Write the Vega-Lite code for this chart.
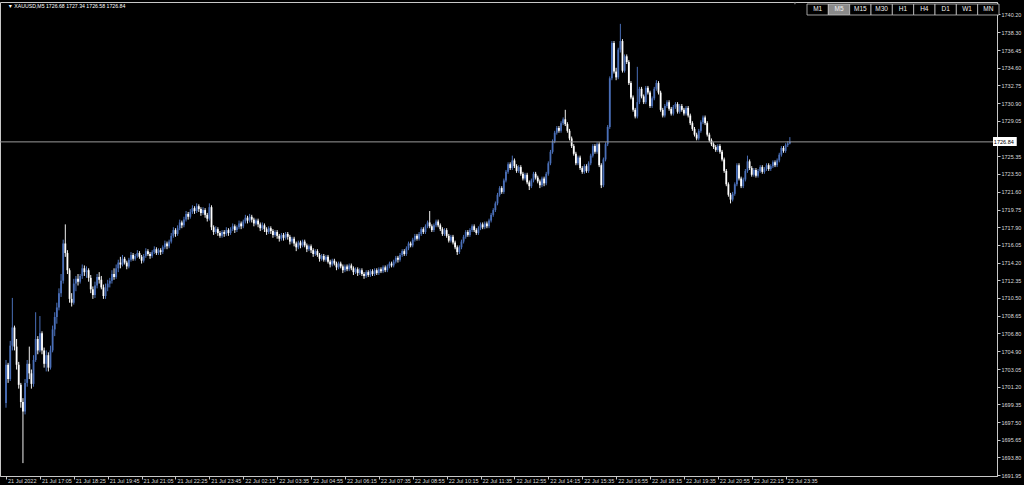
{
"$schema": "https://vega.github.io/schema/vega-lite/v6.json",
"width": 997,
"height": 474,
"autosize": {"type": "none"},
"padding": {"left": 0, "top": 2, "right": 27, "bottom": 9},
"background": "#000000",
"config": {
  "view": {"stroke": "#c8c8c8", "strokeWidth": 1, "fill": "#000000"},
  "axis": {"grid": false, "domainColor": "#c8c8c8", "tickColor": "#c8c8c8", "labelColor": "#dcdcdc", "labelFont": "Liberation Sans", "labelFontSize": 5.5, "tickSize": 3, "title": null, "labelOverlap": false, "labelFlush": false, "labelBound": false}
},
"datasets": {
  "bars": [
{"i":0,"o":1699.5,"h":1704.0,"l":1699.0,"c":1703.5},
{"i":1,"o":1703.5,"h":1703.7,"l":1701.6,"c":1702.0},
{"i":2,"o":1702.0,"h":1706.0,"l":1701.8,"c":1705.5},
{"i":3,"o":1705.5,"h":1710.5,"l":1705.0,"c":1707.4},
{"i":4,"o":1707.4,"h":1707.6,"l":1705.0,"c":1705.4},
{"i":5,"o":1705.4,"h":1706.2,"l":1703.0,"c":1703.5},
{"i":6,"o":1703.5,"h":1703.8,"l":1701.0,"c":1701.4},
{"i":7,"o":1701.4,"h":1701.6,"l":1699.0,"c":1699.6},
{"i":8,"o":1699.6,"h":1700.0,"l":1693.2,"c":1698.6},
{"i":9,"o":1698.6,"h":1702.0,"l":1698.3,"c":1701.6},
{"i":10,"o":1701.6,"h":1704.0,"l":1701.2,"c":1703.6},
{"i":11,"o":1703.6,"h":1705.4,"l":1702.0,"c":1702.6},
{"i":12,"o":1702.6,"h":1703.0,"l":1701.0,"c":1701.5},
{"i":13,"o":1701.5,"h":1704.5,"l":1701.2,"c":1704.0},
{"i":14,"o":1704.0,"h":1709.0,"l":1703.8,"c":1706.2},
{"i":15,"o":1706.2,"h":1706.5,"l":1704.6,"c":1705.0},
{"i":16,"o":1705.0,"h":1708.6,"l":1704.8,"c":1706.8},
{"i":17,"o":1706.8,"h":1707.0,"l":1704.6,"c":1705.0},
{"i":18,"o":1705.0,"h":1705.3,"l":1703.2,"c":1703.6},
{"i":19,"o":1703.6,"h":1705.0,"l":1702.8,"c":1704.5},
{"i":20,"o":1704.5,"h":1704.8,"l":1702.8,"c":1703.2},
{"i":21,"o":1703.2,"h":1705.5,"l":1703.0,"c":1705.0},
{"i":22,"o":1705.0,"h":1707.6,"l":1704.8,"c":1707.2},
{"i":23,"o":1707.2,"h":1709.0,"l":1706.5,"c":1708.5},
{"i":24,"o":1708.5,"h":1710.0,"l":1707.8,"c":1709.5},
{"i":25,"o":1709.5,"h":1711.5,"l":1709.2,"c":1711.0},
{"i":26,"o":1711.0,"h":1713.0,"l":1710.6,"c":1712.3},
{"i":27,"o":1712.3,"h":1716.6,"l":1712.0,"c":1716.2},
{"i":28,"o":1716.2,"h":1718.2,"l":1714.8,"c":1715.2},
{"i":29,"o":1715.2,"h":1715.5,"l":1713.0,"c":1713.4},
{"i":30,"o":1713.4,"h":1713.6,"l":1710.0,"c":1710.4},
{"i":31,"o":1710.4,"h":1711.0,"l":1709.6,"c":1710.0},
{"i":32,"o":1710.0,"h":1712.5,"l":1709.8,"c":1712.0},
{"i":33,"o":1712.0,"h":1712.8,"l":1711.2,"c":1712.5},
{"i":34,"o":1712.5,"h":1713.0,"l":1711.8,"c":1712.2},
{"i":35,"o":1712.2,"h":1713.0,"l":1712.0,"c":1712.8},
{"i":36,"o":1712.8,"h":1714.0,"l":1712.5,"c":1713.6},
{"i":37,"o":1713.6,"h":1713.9,"l":1712.8,"c":1713.2},
{"i":38,"o":1713.2,"h":1713.8,"l":1712.6,"c":1713.4},
{"i":39,"o":1713.4,"h":1713.6,"l":1712.2,"c":1712.6},
{"i":40,"o":1712.6,"h":1712.9,"l":1711.0,"c":1711.4},
{"i":41,"o":1711.4,"h":1711.7,"l":1710.4,"c":1710.8},
{"i":42,"o":1710.8,"h":1712.2,"l":1710.5,"c":1711.8},
{"i":43,"o":1711.8,"h":1713.0,"l":1711.5,"c":1712.7},
{"i":44,"o":1712.7,"h":1713.2,"l":1712.0,"c":1712.4},
{"i":45,"o":1712.4,"h":1712.8,"l":1711.4,"c":1711.6},
{"i":46,"o":1711.6,"h":1711.9,"l":1710.4,"c":1710.7},
{"i":47,"o":1710.7,"h":1712.0,"l":1710.4,"c":1711.6},
{"i":48,"o":1711.6,"h":1712.4,"l":1711.2,"c":1712.0},
{"i":49,"o":1712.0,"h":1712.6,"l":1711.6,"c":1712.3},
{"i":50,"o":1712.3,"h":1713.4,"l":1712.0,"c":1713.0},
{"i":51,"o":1713.0,"h":1713.6,"l":1712.4,"c":1712.7},
{"i":52,"o":1712.7,"h":1714.0,"l":1712.5,"c":1713.6},
{"i":53,"o":1713.6,"h":1714.5,"l":1713.2,"c":1714.2},
{"i":54,"o":1714.2,"h":1714.8,"l":1713.6,"c":1714.0},
{"i":55,"o":1714.0,"h":1715.0,"l":1713.8,"c":1714.6},
{"i":56,"o":1714.6,"h":1714.8,"l":1714.0,"c":1714.2},
{"i":57,"o":1714.2,"h":1714.4,"l":1713.5,"c":1713.8},
{"i":58,"o":1713.8,"h":1714.7,"l":1713.6,"c":1714.5},
{"i":59,"o":1714.5,"h":1715.3,"l":1714.3,"c":1715.0},
{"i":60,"o":1715.0,"h":1715.2,"l":1714.4,"c":1714.6},
{"i":61,"o":1714.6,"h":1715.1,"l":1714.4,"c":1714.9},
{"i":62,"o":1714.9,"h":1715.5,"l":1714.7,"c":1715.2},
{"i":63,"o":1715.2,"h":1715.4,"l":1714.6,"c":1714.8},
{"i":64,"o":1714.8,"h":1715.0,"l":1714.1,"c":1714.4},
{"i":65,"o":1714.4,"h":1715.1,"l":1714.2,"c":1714.9},
{"i":66,"o":1714.9,"h":1715.7,"l":1714.7,"c":1715.4},
{"i":67,"o":1715.4,"h":1715.6,"l":1714.9,"c":1715.1},
{"i":68,"o":1715.1,"h":1715.3,"l":1714.6,"c":1714.9},
{"i":69,"o":1714.9,"h":1715.5,"l":1714.7,"c":1715.3},
{"i":70,"o":1715.3,"h":1715.9,"l":1715.1,"c":1715.6},
{"i":71,"o":1715.6,"h":1715.8,"l":1715.0,"c":1715.2},
{"i":72,"o":1715.2,"h":1715.7,"l":1715.0,"c":1715.5},
{"i":73,"o":1715.5,"h":1715.7,"l":1715.0,"c":1715.3},
{"i":74,"o":1715.3,"h":1716.0,"l":1715.1,"c":1715.8},
{"i":75,"o":1715.8,"h":1716.5,"l":1715.6,"c":1716.2},
{"i":76,"o":1716.2,"h":1716.4,"l":1715.6,"c":1715.9},
{"i":77,"o":1715.9,"h":1716.6,"l":1715.7,"c":1716.4},
{"i":78,"o":1716.4,"h":1717.3,"l":1716.2,"c":1717.0},
{"i":79,"o":1717.0,"h":1717.9,"l":1716.8,"c":1717.6},
{"i":80,"o":1717.6,"h":1717.8,"l":1716.9,"c":1717.2},
{"i":81,"o":1717.2,"h":1718.1,"l":1717.0,"c":1717.8},
{"i":82,"o":1717.8,"h":1718.7,"l":1717.6,"c":1718.4},
{"i":83,"o":1718.4,"h":1718.6,"l":1717.8,"c":1718.1},
{"i":84,"o":1718.1,"h":1719.0,"l":1717.9,"c":1718.7},
{"i":85,"o":1718.7,"h":1719.6,"l":1718.5,"c":1719.3},
{"i":86,"o":1719.3,"h":1719.5,"l":1718.7,"c":1719.0},
{"i":87,"o":1719.0,"h":1719.8,"l":1718.8,"c":1719.5},
{"i":88,"o":1719.5,"h":1720.2,"l":1719.3,"c":1719.9},
{"i":89,"o":1719.9,"h":1720.1,"l":1719.3,"c":1719.6},
{"i":90,"o":1719.6,"h":1720.4,"l":1719.4,"c":1720.1},
{"i":91,"o":1720.1,"h":1720.3,"l":1719.5,"c":1719.8},
{"i":92,"o":1719.8,"h":1720.0,"l":1719.1,"c":1719.4},
{"i":93,"o":1719.4,"h":1720.0,"l":1719.2,"c":1719.7},
{"i":94,"o":1719.7,"h":1719.9,"l":1718.9,"c":1719.2},
{"i":95,"o":1719.2,"h":1719.4,"l":1718.5,"c":1718.8},
{"i":96,"o":1718.8,"h":1720.4,"l":1718.6,"c":1720.0},
{"i":97,"o":1720.0,"h":1720.2,"l":1717.6,"c":1717.9},
{"i":98,"o":1717.9,"h":1718.1,"l":1717.1,"c":1717.4},
{"i":99,"o":1717.4,"h":1718.0,"l":1717.2,"c":1717.7},
{"i":100,"o":1717.7,"h":1717.9,"l":1717.0,"c":1717.3},
{"i":101,"o":1717.3,"h":1717.5,"l":1716.8,"c":1717.0},
{"i":102,"o":1717.0,"h":1717.6,"l":1716.8,"c":1717.4},
{"i":103,"o":1717.4,"h":1717.6,"l":1716.9,"c":1717.2},
{"i":104,"o":1717.2,"h":1717.9,"l":1717.0,"c":1717.6},
{"i":105,"o":1717.6,"h":1717.8,"l":1717.0,"c":1717.3},
{"i":106,"o":1717.3,"h":1717.9,"l":1717.1,"c":1717.7},
{"i":107,"o":1717.7,"h":1718.3,"l":1717.5,"c":1718.0},
{"i":108,"o":1718.0,"h":1718.2,"l":1717.3,"c":1717.6},
{"i":109,"o":1717.6,"h":1718.1,"l":1717.4,"c":1717.9},
{"i":110,"o":1717.9,"h":1718.6,"l":1717.7,"c":1718.3},
{"i":111,"o":1718.3,"h":1718.5,"l":1717.7,"c":1718.0},
{"i":112,"o":1718.0,"h":1718.7,"l":1717.8,"c":1718.5},
{"i":113,"o":1718.5,"h":1719.2,"l":1718.3,"c":1718.9},
{"i":114,"o":1718.9,"h":1719.1,"l":1718.3,"c":1718.6},
{"i":115,"o":1718.6,"h":1719.3,"l":1718.4,"c":1719.0},
{"i":116,"o":1719.0,"h":1719.2,"l":1718.4,"c":1718.7},
{"i":117,"o":1718.7,"h":1718.9,"l":1718.0,"c":1718.3},
{"i":118,"o":1718.3,"h":1718.8,"l":1718.1,"c":1718.6},
{"i":119,"o":1718.6,"h":1718.8,"l":1717.9,"c":1718.2},
{"i":120,"o":1718.2,"h":1718.4,"l":1717.5,"c":1717.8},
{"i":121,"o":1717.8,"h":1718.4,"l":1717.6,"c":1718.1},
{"i":122,"o":1718.1,"h":1718.3,"l":1717.4,"c":1717.7},
{"i":123,"o":1717.7,"h":1717.9,"l":1717.1,"c":1717.4},
{"i":124,"o":1717.4,"h":1718.0,"l":1717.2,"c":1717.8},
{"i":125,"o":1717.8,"h":1718.0,"l":1717.2,"c":1717.5},
{"i":126,"o":1717.5,"h":1717.7,"l":1716.8,"c":1717.1},
{"i":127,"o":1717.1,"h":1717.6,"l":1716.9,"c":1717.4},
{"i":128,"o":1717.4,"h":1717.6,"l":1716.7,"c":1717.0},
{"i":129,"o":1717.0,"h":1717.2,"l":1716.4,"c":1716.7},
{"i":130,"o":1716.7,"h":1717.3,"l":1716.5,"c":1717.1},
{"i":131,"o":1717.1,"h":1717.3,"l":1716.5,"c":1716.8},
{"i":132,"o":1716.8,"h":1717.4,"l":1716.6,"c":1717.2},
{"i":133,"o":1717.2,"h":1717.4,"l":1716.6,"c":1716.9},
{"i":134,"o":1716.9,"h":1717.1,"l":1716.1,"c":1716.4},
{"i":135,"o":1716.4,"h":1716.9,"l":1716.2,"c":1716.7},
{"i":136,"o":1716.7,"h":1716.9,"l":1715.9,"c":1716.2},
{"i":137,"o":1716.2,"h":1716.4,"l":1715.4,"c":1715.8},
{"i":138,"o":1715.8,"h":1716.5,"l":1715.6,"c":1716.3},
{"i":139,"o":1716.3,"h":1716.5,"l":1715.7,"c":1716.0},
{"i":140,"o":1716.0,"h":1716.6,"l":1715.8,"c":1716.4},
{"i":141,"o":1716.4,"h":1716.6,"l":1715.8,"c":1716.0},
{"i":142,"o":1716.0,"h":1716.2,"l":1715.3,"c":1715.6},
{"i":143,"o":1715.6,"h":1716.1,"l":1715.4,"c":1715.9},
{"i":144,"o":1715.9,"h":1716.1,"l":1715.2,"c":1715.5},
{"i":145,"o":1715.5,"h":1715.7,"l":1714.8,"c":1715.1},
{"i":146,"o":1715.1,"h":1715.6,"l":1714.9,"c":1715.4},
{"i":147,"o":1715.4,"h":1715.6,"l":1714.8,"c":1715.0},
{"i":148,"o":1715.0,"h":1715.2,"l":1714.3,"c":1714.6},
{"i":149,"o":1714.6,"h":1715.1,"l":1714.4,"c":1714.9},
{"i":150,"o":1714.9,"h":1715.1,"l":1714.3,"c":1714.5},
{"i":151,"o":1714.5,"h":1715.0,"l":1714.3,"c":1714.8},
{"i":152,"o":1714.8,"h":1715.0,"l":1714.1,"c":1714.3},
{"i":153,"o":1714.3,"h":1714.5,"l":1713.7,"c":1714.0},
{"i":154,"o":1714.0,"h":1714.6,"l":1713.8,"c":1714.4},
{"i":155,"o":1714.4,"h":1714.6,"l":1713.9,"c":1714.1},
{"i":156,"o":1714.1,"h":1714.3,"l":1713.4,"c":1713.7},
{"i":157,"o":1713.7,"h":1714.3,"l":1713.5,"c":1714.1},
{"i":158,"o":1714.1,"h":1714.3,"l":1713.6,"c":1713.8},
{"i":159,"o":1713.8,"h":1714.0,"l":1713.1,"c":1713.4},
{"i":160,"o":1713.4,"h":1714.0,"l":1713.2,"c":1713.8},
{"i":161,"o":1713.8,"h":1714.0,"l":1713.3,"c":1713.5},
{"i":162,"o":1713.5,"h":1714.1,"l":1713.3,"c":1713.9},
{"i":163,"o":1713.9,"h":1714.1,"l":1713.4,"c":1713.6},
{"i":164,"o":1713.6,"h":1713.8,"l":1712.9,"c":1713.2},
{"i":165,"o":1713.2,"h":1713.7,"l":1713.0,"c":1713.5},
{"i":166,"o":1713.5,"h":1713.7,"l":1712.8,"c":1713.1},
{"i":167,"o":1713.1,"h":1713.6,"l":1712.9,"c":1713.4},
{"i":168,"o":1713.4,"h":1713.6,"l":1712.8,"c":1713.0},
{"i":169,"o":1713.0,"h":1713.2,"l":1712.5,"c":1712.8},
{"i":170,"o":1712.8,"h":1713.4,"l":1712.6,"c":1713.2},
{"i":171,"o":1713.2,"h":1713.4,"l":1712.7,"c":1712.9},
{"i":172,"o":1712.9,"h":1713.5,"l":1712.7,"c":1713.3},
{"i":173,"o":1713.3,"h":1713.5,"l":1712.8,"c":1713.0},
{"i":174,"o":1713.0,"h":1713.6,"l":1712.8,"c":1713.4},
{"i":175,"o":1713.4,"h":1713.6,"l":1712.9,"c":1713.1},
{"i":176,"o":1713.1,"h":1713.7,"l":1712.9,"c":1713.5},
{"i":177,"o":1713.5,"h":1713.7,"l":1713.1,"c":1713.3},
{"i":178,"o":1713.3,"h":1713.9,"l":1713.1,"c":1713.7},
{"i":179,"o":1713.7,"h":1713.9,"l":1713.2,"c":1713.4},
{"i":180,"o":1713.4,"h":1714.0,"l":1713.2,"c":1713.8},
{"i":181,"o":1713.8,"h":1714.3,"l":1713.6,"c":1714.1},
{"i":182,"o":1714.1,"h":1714.3,"l":1713.7,"c":1713.9},
{"i":183,"o":1713.9,"h":1714.5,"l":1713.7,"c":1714.3},
{"i":184,"o":1714.3,"h":1714.9,"l":1714.1,"c":1714.7},
{"i":185,"o":1714.7,"h":1714.9,"l":1714.2,"c":1714.5},
{"i":186,"o":1714.5,"h":1715.2,"l":1714.3,"c":1715.0},
{"i":187,"o":1715.0,"h":1715.6,"l":1714.8,"c":1715.4},
{"i":188,"o":1715.4,"h":1715.6,"l":1714.9,"c":1715.1},
{"i":189,"o":1715.1,"h":1715.9,"l":1714.9,"c":1715.7},
{"i":190,"o":1715.7,"h":1716.4,"l":1715.5,"c":1716.2},
{"i":191,"o":1716.2,"h":1716.4,"l":1715.8,"c":1716.0},
{"i":192,"o":1716.0,"h":1716.8,"l":1715.8,"c":1716.6},
{"i":193,"o":1716.6,"h":1717.2,"l":1716.4,"c":1717.0},
{"i":194,"o":1717.0,"h":1717.2,"l":1716.5,"c":1716.7},
{"i":195,"o":1716.7,"h":1717.4,"l":1716.5,"c":1717.2},
{"i":196,"o":1717.2,"h":1717.9,"l":1717.0,"c":1717.7},
{"i":197,"o":1717.7,"h":1717.9,"l":1717.2,"c":1717.4},
{"i":198,"o":1717.4,"h":1718.2,"l":1717.2,"c":1718.0},
{"i":199,"o":1718.0,"h":1718.6,"l":1717.8,"c":1718.4},
{"i":200,"o":1718.4,"h":1719.6,"l":1717.8,"c":1718.0},
{"i":201,"o":1718.0,"h":1718.2,"l":1717.4,"c":1717.6},
{"i":202,"o":1717.6,"h":1718.3,"l":1717.4,"c":1718.1},
{"i":203,"o":1718.1,"h":1718.7,"l":1717.9,"c":1718.5},
{"i":204,"o":1718.5,"h":1718.7,"l":1717.9,"c":1718.1},
{"i":205,"o":1718.1,"h":1718.3,"l":1717.5,"c":1717.7},
{"i":206,"o":1717.7,"h":1717.9,"l":1717.0,"c":1717.2},
{"i":207,"o":1717.2,"h":1717.8,"l":1717.0,"c":1717.6},
{"i":208,"o":1717.6,"h":1717.8,"l":1716.8,"c":1717.0},
{"i":209,"o":1717.0,"h":1717.2,"l":1716.3,"c":1716.5},
{"i":210,"o":1716.5,"h":1717.1,"l":1716.3,"c":1716.9},
{"i":211,"o":1716.9,"h":1717.1,"l":1716.1,"c":1716.3},
{"i":212,"o":1716.3,"h":1716.5,"l":1715.6,"c":1715.8},
{"i":213,"o":1715.8,"h":1716.0,"l":1715.0,"c":1715.3},
{"i":214,"o":1715.3,"h":1716.0,"l":1715.1,"c":1715.8},
{"i":215,"o":1715.8,"h":1716.6,"l":1715.6,"c":1716.4},
{"i":216,"o":1716.4,"h":1717.1,"l":1716.2,"c":1716.9},
{"i":217,"o":1716.9,"h":1717.6,"l":1716.7,"c":1717.4},
{"i":218,"o":1717.4,"h":1717.6,"l":1716.9,"c":1717.1},
{"i":219,"o":1717.1,"h":1717.8,"l":1716.9,"c":1717.6},
{"i":220,"o":1717.6,"h":1718.2,"l":1717.4,"c":1718.0},
{"i":221,"o":1718.0,"h":1718.2,"l":1717.4,"c":1717.6},
{"i":222,"o":1717.6,"h":1717.8,"l":1717.1,"c":1717.3},
{"i":223,"o":1717.3,"h":1718.0,"l":1717.1,"c":1717.8},
{"i":224,"o":1717.8,"h":1718.4,"l":1717.6,"c":1718.2},
{"i":225,"o":1718.2,"h":1718.4,"l":1717.7,"c":1717.9},
{"i":226,"o":1717.9,"h":1718.5,"l":1717.7,"c":1718.3},
{"i":227,"o":1718.3,"h":1718.5,"l":1717.8,"c":1718.0},
{"i":228,"o":1718.0,"h":1718.8,"l":1717.8,"c":1718.6},
{"i":229,"o":1718.6,"h":1719.4,"l":1718.4,"c":1719.2},
{"i":230,"o":1719.2,"h":1719.9,"l":1719.0,"c":1719.7},
{"i":231,"o":1719.7,"h":1720.6,"l":1719.5,"c":1720.4},
{"i":232,"o":1720.4,"h":1721.5,"l":1720.2,"c":1721.3},
{"i":233,"o":1721.3,"h":1722.2,"l":1721.1,"c":1722.0},
{"i":234,"o":1722.0,"h":1722.2,"l":1721.4,"c":1721.6},
{"i":235,"o":1721.6,"h":1723.0,"l":1721.4,"c":1722.8},
{"i":236,"o":1722.8,"h":1723.9,"l":1722.6,"c":1723.7},
{"i":237,"o":1723.7,"h":1724.7,"l":1723.5,"c":1724.5},
{"i":238,"o":1724.5,"h":1724.7,"l":1723.9,"c":1724.1},
{"i":239,"o":1724.1,"h":1725.4,"l":1723.9,"c":1724.9},
{"i":240,"o":1724.9,"h":1725.1,"l":1724.1,"c":1724.3},
{"i":241,"o":1724.3,"h":1724.5,"l":1723.6,"c":1723.8},
{"i":242,"o":1723.8,"h":1724.4,"l":1723.6,"c":1724.2},
{"i":243,"o":1724.2,"h":1724.4,"l":1723.3,"c":1723.5},
{"i":244,"o":1723.5,"h":1723.7,"l":1722.8,"c":1723.0},
{"i":245,"o":1723.0,"h":1723.6,"l":1722.8,"c":1723.4},
{"i":246,"o":1723.4,"h":1723.6,"l":1722.4,"c":1722.6},
{"i":247,"o":1722.6,"h":1722.8,"l":1721.8,"c":1722.2},
{"i":248,"o":1722.2,"h":1723.0,"l":1722.0,"c":1722.8},
{"i":249,"o":1722.8,"h":1723.7,"l":1722.6,"c":1723.5},
{"i":250,"o":1723.5,"h":1723.7,"l":1722.9,"c":1723.1},
{"i":251,"o":1723.1,"h":1723.3,"l":1722.5,"c":1722.7},
{"i":252,"o":1722.7,"h":1722.9,"l":1722.0,"c":1722.3},
{"i":253,"o":1722.3,"h":1723.2,"l":1722.1,"c":1723.0},
{"i":254,"o":1723.0,"h":1723.2,"l":1722.2,"c":1722.5},
{"i":255,"o":1722.5,"h":1723.7,"l":1722.3,"c":1723.5},
{"i":256,"o":1723.5,"h":1724.8,"l":1723.3,"c":1724.6},
{"i":257,"o":1724.6,"h":1726.0,"l":1724.4,"c":1725.8},
{"i":258,"o":1725.8,"h":1727.1,"l":1725.6,"c":1726.9},
{"i":259,"o":1726.9,"h":1728.0,"l":1726.7,"c":1727.8},
{"i":260,"o":1727.8,"h":1728.5,"l":1727.6,"c":1728.3},
{"i":261,"o":1728.3,"h":1728.5,"l":1727.8,"c":1728.0},
{"i":262,"o":1728.0,"h":1729.0,"l":1727.8,"c":1728.8},
{"i":263,"o":1728.8,"h":1729.4,"l":1728.6,"c":1729.2},
{"i":264,"o":1729.2,"h":1730.2,"l":1728.5,"c":1728.7},
{"i":265,"o":1728.7,"h":1728.9,"l":1727.8,"c":1728.0},
{"i":266,"o":1728.0,"h":1728.2,"l":1727.0,"c":1727.2},
{"i":267,"o":1727.2,"h":1727.4,"l":1726.2,"c":1726.4},
{"i":268,"o":1726.4,"h":1726.6,"l":1725.4,"c":1725.6},
{"i":269,"o":1725.6,"h":1725.8,"l":1724.4,"c":1724.6},
{"i":270,"o":1724.6,"h":1725.4,"l":1724.4,"c":1725.2},
{"i":271,"o":1725.2,"h":1725.4,"l":1723.9,"c":1724.1},
{"i":272,"o":1724.1,"h":1724.3,"l":1723.5,"c":1723.7},
{"i":273,"o":1723.7,"h":1724.5,"l":1723.5,"c":1724.3},
{"i":274,"o":1724.3,"h":1724.5,"l":1723.6,"c":1723.8},
{"i":275,"o":1723.8,"h":1724.8,"l":1723.6,"c":1724.6},
{"i":276,"o":1724.6,"h":1725.6,"l":1724.4,"c":1725.4},
{"i":277,"o":1725.4,"h":1726.6,"l":1725.2,"c":1726.4},
{"i":278,"o":1726.4,"h":1726.6,"l":1725.6,"c":1725.8},
{"i":279,"o":1725.8,"h":1726.8,"l":1725.6,"c":1726.6},
{"i":280,"o":1726.6,"h":1726.8,"l":1724.2,"c":1724.4},
{"i":281,"o":1724.4,"h":1724.6,"l":1722.0,"c":1722.3},
{"i":282,"o":1722.3,"h":1725.2,"l":1722.1,"c":1725.0},
{"i":283,"o":1725.0,"h":1726.8,"l":1724.8,"c":1726.6},
{"i":284,"o":1726.6,"h":1728.6,"l":1726.4,"c":1728.4},
{"i":285,"o":1728.4,"h":1733.7,"l":1728.2,"c":1733.5},
{"i":286,"o":1733.5,"h":1737.4,"l":1733.3,"c":1737.2},
{"i":287,"o":1737.2,"h":1737.4,"l":1734.0,"c":1734.2},
{"i":288,"o":1734.2,"h":1734.6,"l":1733.3,"c":1733.6},
{"i":289,"o":1733.6,"h":1736.7,"l":1733.4,"c":1736.5},
{"i":290,"o":1736.5,"h":1739.2,"l":1736.2,"c":1737.4},
{"i":291,"o":1737.4,"h":1737.6,"l":1734.1,"c":1734.3},
{"i":292,"o":1734.3,"h":1736.0,"l":1734.1,"c":1735.8},
{"i":293,"o":1735.8,"h":1736.0,"l":1735.0,"c":1735.2},
{"i":294,"o":1735.2,"h":1735.4,"l":1732.8,"c":1733.0},
{"i":295,"o":1733.0,"h":1733.2,"l":1731.3,"c":1731.5},
{"i":296,"o":1731.5,"h":1731.7,"l":1730.0,"c":1730.2},
{"i":297,"o":1730.2,"h":1730.4,"l":1729.3,"c":1729.5},
{"i":298,"o":1729.5,"h":1734.7,"l":1729.3,"c":1731.0},
{"i":299,"o":1731.0,"h":1732.6,"l":1730.8,"c":1732.4},
{"i":300,"o":1732.4,"h":1732.6,"l":1731.4,"c":1731.6},
{"i":301,"o":1731.6,"h":1731.8,"l":1730.8,"c":1731.0},
{"i":302,"o":1731.0,"h":1732.7,"l":1730.8,"c":1732.5},
{"i":303,"o":1732.5,"h":1732.7,"l":1731.8,"c":1732.0},
{"i":304,"o":1732.0,"h":1732.2,"l":1730.4,"c":1730.6},
{"i":305,"o":1730.6,"h":1731.6,"l":1730.4,"c":1731.4},
{"i":306,"o":1731.4,"h":1732.6,"l":1731.2,"c":1732.4},
{"i":307,"o":1732.4,"h":1733.3,"l":1732.2,"c":1733.0},
{"i":308,"o":1733.0,"h":1733.2,"l":1731.8,"c":1732.0},
{"i":309,"o":1732.0,"h":1732.2,"l":1730.0,"c":1730.2},
{"i":310,"o":1730.2,"h":1730.4,"l":1729.4,"c":1729.6},
{"i":311,"o":1729.6,"h":1730.8,"l":1729.4,"c":1730.6},
{"i":312,"o":1730.6,"h":1731.2,"l":1730.4,"c":1731.0},
{"i":313,"o":1731.0,"h":1731.2,"l":1730.1,"c":1730.3},
{"i":314,"o":1730.3,"h":1730.5,"l":1729.6,"c":1729.8},
{"i":315,"o":1729.8,"h":1730.7,"l":1729.6,"c":1730.5},
{"i":316,"o":1730.5,"h":1731.0,"l":1730.3,"c":1730.8},
{"i":317,"o":1730.8,"h":1731.0,"l":1729.8,"c":1730.0},
{"i":318,"o":1730.0,"h":1730.8,"l":1729.8,"c":1730.6},
{"i":319,"o":1730.6,"h":1730.8,"l":1730.0,"c":1730.2},
{"i":320,"o":1730.2,"h":1730.4,"l":1729.6,"c":1729.8},
{"i":321,"o":1729.8,"h":1730.6,"l":1729.6,"c":1730.4},
{"i":322,"o":1730.4,"h":1730.6,"l":1729.4,"c":1729.6},
{"i":323,"o":1729.6,"h":1729.8,"l":1728.6,"c":1728.8},
{"i":324,"o":1728.8,"h":1729.0,"l":1728.0,"c":1728.2},
{"i":325,"o":1728.2,"h":1728.4,"l":1727.4,"c":1727.6},
{"i":326,"o":1727.6,"h":1727.8,"l":1727.0,"c":1727.2},
{"i":327,"o":1727.2,"h":1728.2,"l":1727.0,"c":1728.0},
{"i":328,"o":1728.0,"h":1729.1,"l":1727.8,"c":1728.9},
{"i":329,"o":1728.9,"h":1729.6,"l":1728.7,"c":1729.4},
{"i":330,"o":1729.4,"h":1729.6,"l":1728.6,"c":1728.8},
{"i":331,"o":1728.8,"h":1729.0,"l":1727.4,"c":1727.6},
{"i":332,"o":1727.6,"h":1727.8,"l":1726.8,"c":1727.0},
{"i":333,"o":1727.0,"h":1727.2,"l":1726.4,"c":1726.6},
{"i":334,"o":1726.6,"h":1726.8,"l":1726.1,"c":1726.3},
{"i":335,"o":1726.3,"h":1726.5,"l":1725.8,"c":1726.0},
{"i":336,"o":1726.0,"h":1726.6,"l":1725.8,"c":1726.4},
{"i":337,"o":1726.4,"h":1726.6,"l":1725.6,"c":1725.8},
{"i":338,"o":1725.8,"h":1726.0,"l":1724.8,"c":1725.0},
{"i":339,"o":1725.0,"h":1725.2,"l":1723.6,"c":1723.8},
{"i":340,"o":1723.8,"h":1724.0,"l":1722.2,"c":1722.4},
{"i":341,"o":1722.4,"h":1722.6,"l":1721.1,"c":1721.3},
{"i":342,"o":1721.3,"h":1721.5,"l":1720.4,"c":1720.8},
{"i":343,"o":1720.8,"h":1721.6,"l":1720.6,"c":1721.4},
{"i":344,"o":1721.4,"h":1722.6,"l":1721.2,"c":1722.4},
{"i":345,"o":1722.4,"h":1724.6,"l":1722.2,"c":1724.4},
{"i":346,"o":1724.4,"h":1724.6,"l":1722.8,"c":1723.0},
{"i":347,"o":1723.0,"h":1723.2,"l":1722.0,"c":1722.2},
{"i":348,"o":1722.2,"h":1723.1,"l":1722.0,"c":1722.9},
{"i":349,"o":1722.9,"h":1724.0,"l":1722.7,"c":1723.8},
{"i":350,"o":1723.8,"h":1725.4,"l":1723.6,"c":1724.8},
{"i":351,"o":1724.8,"h":1725.0,"l":1723.9,"c":1724.1},
{"i":352,"o":1724.1,"h":1724.3,"l":1723.2,"c":1723.4},
{"i":353,"o":1723.4,"h":1724.1,"l":1723.2,"c":1723.9},
{"i":354,"o":1723.9,"h":1724.1,"l":1723.1,"c":1723.3},
{"i":355,"o":1723.3,"h":1724.0,"l":1723.1,"c":1723.8},
{"i":356,"o":1723.8,"h":1724.4,"l":1723.6,"c":1724.2},
{"i":357,"o":1724.2,"h":1724.4,"l":1723.5,"c":1723.7},
{"i":358,"o":1723.7,"h":1724.2,"l":1723.5,"c":1724.0},
{"i":359,"o":1724.0,"h":1724.6,"l":1723.8,"c":1724.4},
{"i":360,"o":1724.4,"h":1724.6,"l":1723.8,"c":1724.0},
{"i":361,"o":1724.0,"h":1724.5,"l":1723.8,"c":1724.3},
{"i":362,"o":1724.3,"h":1724.9,"l":1724.1,"c":1724.7},
{"i":363,"o":1724.7,"h":1724.9,"l":1724.2,"c":1724.4},
{"i":364,"o":1724.4,"h":1725.1,"l":1724.2,"c":1724.9},
{"i":365,"o":1724.9,"h":1725.7,"l":1724.7,"c":1725.5},
{"i":366,"o":1725.5,"h":1726.4,"l":1725.3,"c":1726.2},
{"i":367,"o":1726.2,"h":1726.4,"l":1725.7,"c":1725.9},
{"i":368,"o":1725.9,"h":1726.7,"l":1725.7,"c":1726.5},
{"i":369,"o":1726.5,"h":1726.9,"l":1726.3,"c":1726.68},
{"i":370,"o":1726.68,"h":1727.34,"l":1726.58,"c":1726.84}
  ],
  "tf": [{"tf":"M1"},{"tf":"M5"},{"tf":"M15"},{"tf":"M30"},{"tf":"H1"},{"tf":"H4"},{"tf":"D1"},{"tf":"W1"},{"tf":"MN"}]
},
"layer": [
  {
    "layer": [
      {
        "data": {"name": "bars"},
        "mark": {"type": "rule", "strokeWidth": 1},
        "encoding": {
          "x": {"field": "i", "type": "quantitative",
                "scale": {"domain": [-0.47, 465.42], "nice": false, "zero": false},
                "axis": {"orient": "bottom", "values": [0,16,32,48,64,80,96,112,128,144,160,176,192,208,224,240,256,272,288,304,320,336,352,368],
                         "tickCount": 100,
                         "labelExpr": "['21 Jul 2022','21 Jul 17:05','21 Jul 18:25','21 Jul 19:45','21 Jul 21:05','21 Jul 22:25','21 Jul 23:45','22 Jul 02:15','22 Jul 03:35','22 Jul 04:55','22 Jul 06:15','22 Jul 07:35','22 Jul 08:55','22 Jul 10:15','22 Jul 11:35','22 Jul 12:55','22 Jul 14:15','22 Jul 15:35','22 Jul 16:55','22 Jul 18:15','22 Jul 19:35','22 Jul 20:55','22 Jul 22:15','22 Jul 23:35'][round(datum.value/16)]",
                         "labelAlign": "left", "labelBaseline": "top", "labelOffset": 1.5, "labelPadding": -1, "tickSize": 3, "title": null, "labelOverlap": false, "labelFlush": false, "labelBound": false}},
          "y": {"field": "l", "type": "quantitative",
                "scale": {"domain": [1691.85, 1741.49], "nice": false, "zero": false},
                "axis": {"orient": "right", "values": [1740.2,1738.3,1736.45,1734.6,1732.75,1730.9,1729.05,1725.35,1723.5,1721.6,1719.75,1717.9,1716.05,1714.2,1712.35,1710.5,1708.65,1706.8,1704.9,1703.05,1701.2,1699.35,1697.5,1695.65,1693.8,1691.95],
                         "tickCount": 100,
                         "format": ".2f", "labelPadding": 1, "tickSize": 3, "title": null, "labelOverlap": false, "labelFlush": false, "labelBound": false, "labelAlign": "left", "labelBaseline": "middle"}},
          "y2": {"field": "h"},
          "color": {"condition": {"test": "datum.c >= datum.o", "value": "#4a6fb8"}, "value": "#f0f0f0"}
        }
      },
      {
        "data": {"name": "bars"},
        "mark": {"type": "bar", "size": 1.8},
        "encoding": {
          "x": {"field": "i", "type": "quantitative"},
          "y": {"field": "o", "type": "quantitative"},
          "y2": {"field": "c"},
          "color": {"condition": {"test": "datum.c >= datum.o", "value": "#4a6fb8"}, "value": "#ffffff"}
        }
      },
      {
        "data": {"values": [{}]},
        "mark": {"type": "rule", "color": "#9a9a9a", "strokeWidth": 1},
        "encoding": {"y": {"datum": 1726.84}}
      },
      {
        "data": {"values": [{}]},
        "mark": {"type": "rect", "fill": "#ffffff"},
        "encoding": {"x": {"datum": 465.9}, "x2": {"datum": 477.1}, "y": {"datum": 1727.35}, "y2": {"datum": 1726.41}}
      },
      {
        "data": {"values": [{}]},
        "mark": {"type": "text", "color": "#000000", "font": "Liberation Sans", "fontSize": 5.5, "align": "left", "baseline": "middle"},
        "encoding": {"x": {"datum": 466.3}, "y": {"datum": 1726.88}, "text": {"value": "1726.84"}}
      },
      {
        "data": {"values": [{}]},
        "mark": {"type": "text", "color": "#ffffff", "font": "Liberation Sans", "fontSize": 5.2, "align": "left", "baseline": "middle"},
        "encoding": {"x": {"datum": 0.8}, "y": {"datum": 1741.1}, "text": {"value": "▼ XAUUSD,M5  1726.68 1727.34 1726.58 1726.84"}}
      },
      {
        "data": {"values": [{}]},
        "mark": {"type": "point", "shape": "triangle-down", "filled": true, "color": "#9a9a9a", "size": 10},
        "encoding": {"x": {"datum": 372.4}, "y": {"datum": 1741.35}}
      }
    ]
  },
  {
    "data": {"name": "tf"},
    "layer": [
      {
        "mark": {"type": "rect", "stroke": "#c8c8c8", "strokeWidth": 0.8},
        "encoding": {
          "x": {"field": "tf", "type": "nominal", "sort": null,
                "scale": {"domain": ["M1","M5","M15","M30","H1","H4","D1","W1","MN"], "range": [807, 999], "paddingInner": 0, "paddingOuter": 0},
                "axis": null},
          "y": {"datum": 1741.28, "scale": {"domain": [1691.85, 1741.49], "nice": false, "zero": false}, "axis": null},
          "y2": {"datum": 1740.13},
          "fill": {"condition": {"test": "datum.tf === 'M5'", "value": "#8a8a8a"}, "value": "#000000"}
        }
      },
      {
        "mark": {"type": "text", "color": "#f0f0f0", "font": "Liberation Sans", "fontSize": 6.5, "align": "center", "baseline": "middle"},
        "encoding": {
          "x": {"field": "tf", "type": "nominal", "sort": null, "band": 0.5, "axis": null},
          "y": {"datum": 1740.72, "axis": null},
          "text": {"field": "tf"}
        }
      }
    ]
  }
],
"resolve": {"scale": {"x": "independent", "y": "independent"}, "axis": {"x": "independent", "y": "independent"}}
}
